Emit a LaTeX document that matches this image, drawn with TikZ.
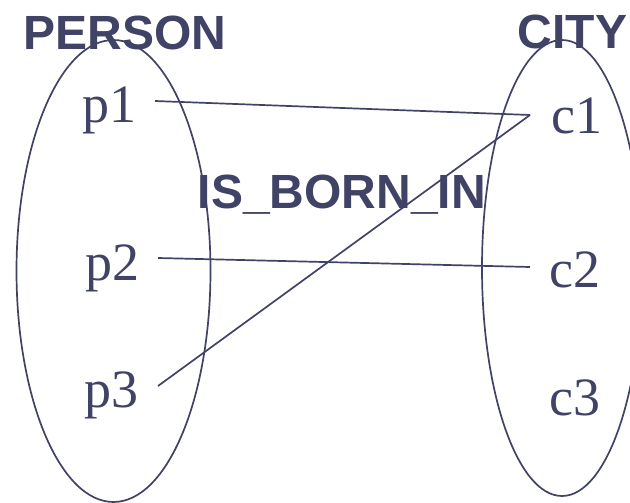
\documentclass[tikz,border=0pt]{standalone}
\usepackage{fontspec}
\setmainfont{Liberation Serif}
\newfontfamily\titlefont{Liberation Sans}
\definecolor{ink}{RGB}{64,66,102}
\begin{document}
\begin{tikzpicture}[x=1pt,y=-1pt,
  settitle/.style={inner sep=0pt,anchor=base west,text=ink,font=\titlefont\bfseries\fontsize{48}{50}\selectfont},
  elem/.style={inner sep=0pt,anchor=base west,text=ink,font=\fontsize{54}{58}\selectfont},
  setshape/.style={draw=ink,line width=1.7pt},
  link/.style={draw=ink,line width=1.7pt}]
\useasboundingbox (0,0) rectangle (630,503);
% sets
\draw[setshape] (113.5,271) ellipse [x radius=97, y radius=231];
\draw[setshape] (562,268) ellipse [x radius=80, y radius=228];
% titles
\node[settitle] (person) at (23.5,50) {PERSON};
\node[settitle] (city) at (517.5,49) {CITY};
\node[settitle] (rel) at (197.5,208) {IS\_BORN\_IN};
% elements
\node[elem] (p1) at (82,123) {p1};
\node[elem] (p2) at (85,280) {p2};
\node[elem] (p3) at (84,407) {p3};
\node[elem] (c1) at (551,133) {c1};
\node[elem] (c2) at (549,287) {c2};
\node[elem] (c3) at (549,415) {c3};
% connector ends
\coordinate (p1r) at (155,101);
\coordinate (p2r) at (158,258);
\coordinate (p3r) at (158,386);
\coordinate (c1l) at (530,115);
\coordinate (c2l) at (530,267);
% links
\draw[link] (p1r) -- (c1l);
\draw[link] (p3r) -- (c1l);
\draw[link] (p2r) -- (c2l);
\end{tikzpicture}
\end{document}
